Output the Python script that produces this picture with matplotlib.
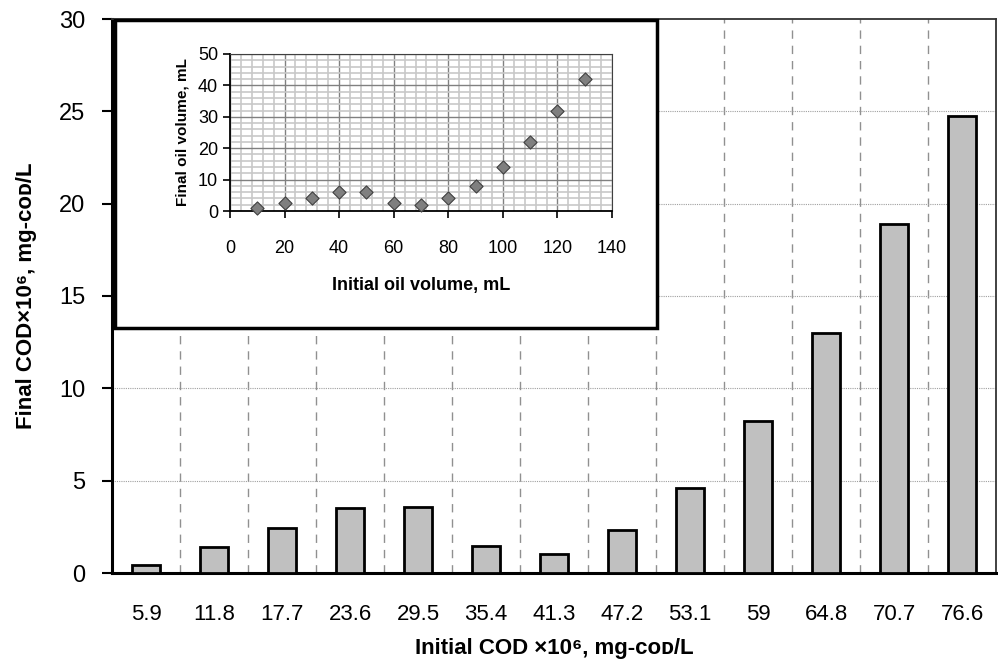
import matplotlib
matplotlib.use("Agg")
import matplotlib.pyplot as plt
import numpy as np
from matplotlib.patches import Rectangle
from matplotlib.ticker import MultipleLocator

# main chart data
initial_cod = ["5.9", "11.8", "17.7", "23.6", "29.5", "35.4", "41.3",
               "47.2", "53.1", "59", "64.8", "70.7", "76.6"]
final_cod = [0.43, 1.4, 2.45, 3.5, 3.57, 1.46, 1.03, 2.33, 4.6, 8.23, 13.0, 18.9, 24.75]

# inset data
initial_oil = [10, 20, 30, 40, 50, 60, 70, 80, 90, 100, 110, 120, 130]
final_oil = [1.0, 2.5, 4.2, 6.0, 6.0, 2.5, 2.0, 4.0, 8.0, 14.0, 22.0, 32.0, 42.0]

plt.rcParams["font.family"] = ["Liberation Sans", "DejaVu Sans"]

fig = plt.figure(figsize=(9.98, 6.72), dpi=100)
ax = fig.add_axes([112 / 998, 1 - 573 / 672, 884 / 998, 554 / 672])

x = np.arange(len(initial_cod))
ax.bar(x, final_cod, width=0.4, color="#c0c0c0", edgecolor="black", linewidth=2, zorder=3)
ax.set_xlim(-0.5, len(initial_cod) - 0.5)
ax.set_ylim(0, 30)
ax.yaxis.set_major_locator(MultipleLocator(5))
ax.set_xticks(x)
ax.set_xticklabels(initial_cod, fontsize=16)
ax.tick_params(axis="x", length=0, pad=22)
ax.tick_params(axis="y", labelsize=17, length=7, width=1.5, direction="out", pad=12)

# grid: dashed between categories, dotted horizontals
for b in np.arange(0.5, len(initial_cod) - 0.5, 1):
    ax.axvline(b, color="#909090", linestyle=(0, (6, 5)), linewidth=1, zorder=1)
for yv in [5, 10, 15, 20, 25]:
    ax.axhline(yv, color="#a0a0a0", linestyle=(0, (1, 1)), linewidth=0.8, zorder=1)

for side in ["left", "bottom"]:
    ax.spines[side].set_linewidth(2.2)
for side in ["top", "right"]:
    ax.spines[side].set_linewidth(1.3)
    ax.spines[side].set_color("#333333")

ax.set_ylabel("Final COD\u00d710\u2076, mg-\u1d04\u1d0f\u1d05/L",
              fontsize=16, fontweight="bold", labelpad=16)
ax.set_xlabel("Initial COD \u00d710\u2076, mg-\u1d04\u1d0f\u1d05/L",
              fontsize=16, fontweight="bold", labelpad=10)

# inset frame
frame = Rectangle((115 / 998, 1 - 328 / 672), 542 / 998, 308 / 672,
                  transform=fig.transFigure, facecolor="white",
                  edgecolor="black", linewidth=2.5, zorder=5)
fig.patches.append(frame)

ins = fig.add_axes([230 / 998, 1 - 211 / 672, 382 / 998, 157 / 672], zorder=6)
ins.scatter(initial_oil, final_oil, marker="D", s=45, color="#7f7f7f",
            edgecolor="#404040", linewidth=0.8, zorder=4, clip_on=False)
ins.set_xlim(0, 140)
ins.set_ylim(0, 50)
ins.xaxis.set_major_locator(MultipleLocator(20))
ins.yaxis.set_major_locator(MultipleLocator(10))
ins.xaxis.set_minor_locator(MultipleLocator(4))
ins.yaxis.set_minor_locator(MultipleLocator(2))
ins.grid(which="minor", color="#c8c8c8", linewidth=1.2, zorder=0)
ins.grid(which="major", color="#808080", linewidth=1, zorder=1)
ins.set_axisbelow(True)
ins.tick_params(which="minor", length=0)
ins.tick_params(which="major", labelsize=13, length=5, width=1.2, direction="out")
ins.tick_params(axis="x", pad=16)
for side in ["top", "right"]:
    ins.spines[side].set_color("#404040")
for side in ["left", "bottom"]:
    ins.spines[side].set_linewidth(1.3)
ins.set_xlabel("Initial oil volume, mL", fontsize=13, fontweight="bold", labelpad=14)
ins.set_ylabel("Final oil volume, mL", fontsize=11, fontweight="bold", labelpad=6)

fig.savefig("out.png", dpi=100)
